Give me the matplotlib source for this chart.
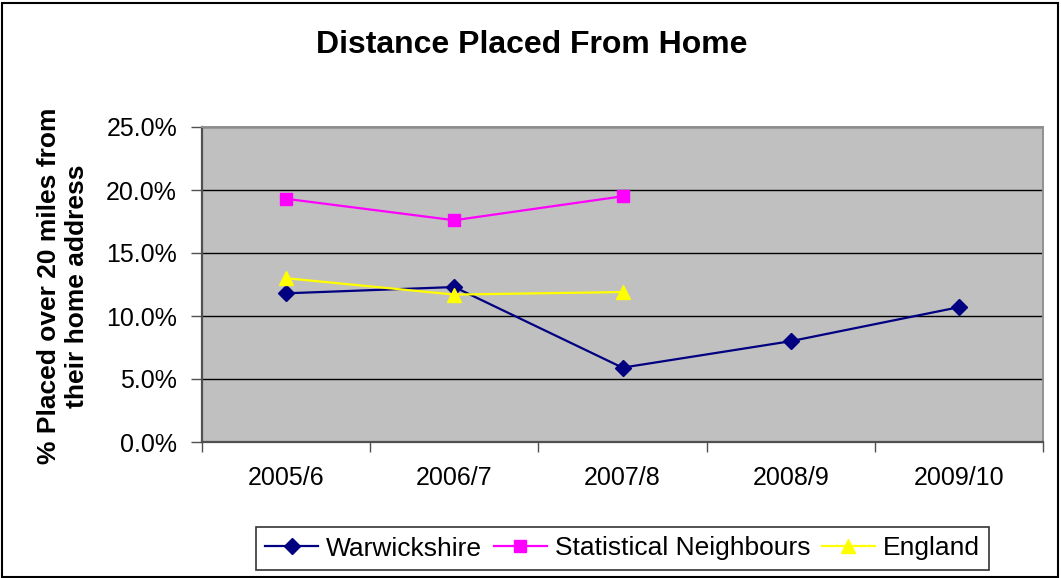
import numpy as np
import matplotlib
matplotlib.use('Agg')
import matplotlib.pyplot as plt
from matplotlib.patches import Rectangle

plt.rcParams['font.family'] = ['Liberation Sans', 'DejaVu Sans']

# values (percent)
years = ['2005/6', '2006/7', '2007/8', '2008/9', '2009/10']
warks = [11.8, 12.3, 5.9, 8.0, 10.7]
statn = [19.3, 17.6, 19.5]
england = [13.0, 11.7, 11.9]
yticks = [0, 5, 10, 15, 20, 25]

fig = plt.figure(figsize=(10.61, 5.78), dpi=100)
ax = fig.add_axes([202/1061., 1-442/578., 841/1061., 315/578.])
ax.set_facecolor('#c0c0c0')

x = np.arange(len(years))
ax.plot(x, warks, color='#000080', lw=1.6, marker='D', ms=8.5, label='Warwickshire')
ax.plot(x[:len(statn)], statn, color='#ff00ff', lw=1.6, marker='s', ms=9,
        label='Statistical Neighbours')
ax.plot(x[:len(england)], england, color='#ffff00', lw=1.6, marker='^', ms=10.5,
        label='England')

ax.set_xlim(-0.5, len(years)-0.5)
ax.set_ylim(0, 25)
ax.set_yticks(yticks)
ax.set_yticklabels(['%.1f%%' % v for v in yticks], fontsize=18)
ax.yaxis.grid(True, color='black', lw=1)
ax.set_axisbelow(True)

# category boundaries get the tick marks, labels sit in between
ax.set_xticks(np.arange(-0.5, len(years)), minor=False)
ax.set_xticklabels([])
ax.set_xticks(x, minor=True)
ax.set_xticklabels(years, minor=True, fontsize=18)
ax.tick_params(axis='x', which='major', length=7, width=1, color='#505050', direction='out')
ax.tick_params(axis='x', which='minor', length=0, pad=17)
ax.tick_params(axis='y', length=8, width=1, color='#505050', pad=10)

ax.spines['left'].set_color('#505050')
ax.spines['left'].set_linewidth(1.6)
ax.spines['bottom'].set_color('#505050')
ax.spines['bottom'].set_linewidth(1.6)
ax.spines['top'].set_color('#909090')
ax.spines['right'].set_color('#909090')
ax.spines['top'].set_linewidth(1.4)
ax.spines['right'].set_linewidth(1.4)

fig.text(532/1061., 1-45/578., 'Distance Placed From Home', fontsize=23,
         fontweight='bold', ha='center', va='center')
fig.text(63/1061., 1-286/578., '% Placed over 20 miles from\ntheir home address',
         fontsize=19, fontweight='bold', rotation=90, ha='center', va='center',
         multialignment='center', linespacing=1.2)

leg = fig.legend(loc='center', bbox_to_anchor=(622.5/1061., 1-548.5/578.), ncol=3,
                 fontsize=19, frameon=True, fancybox=False, edgecolor='black',
                 handlelength=2.0, handletextpad=0.3, columnspacing=0.45,
                 borderpad=0.35, borderaxespad=0)
leg.get_frame().set_linewidth(1.2)

fig.patches.append(Rectangle((0.002, 0.002), 0.995, 0.993, transform=fig.transFigure,
                             fill=False, edgecolor='black', lw=1.5))

fig.savefig('out.png', dpi=100)
